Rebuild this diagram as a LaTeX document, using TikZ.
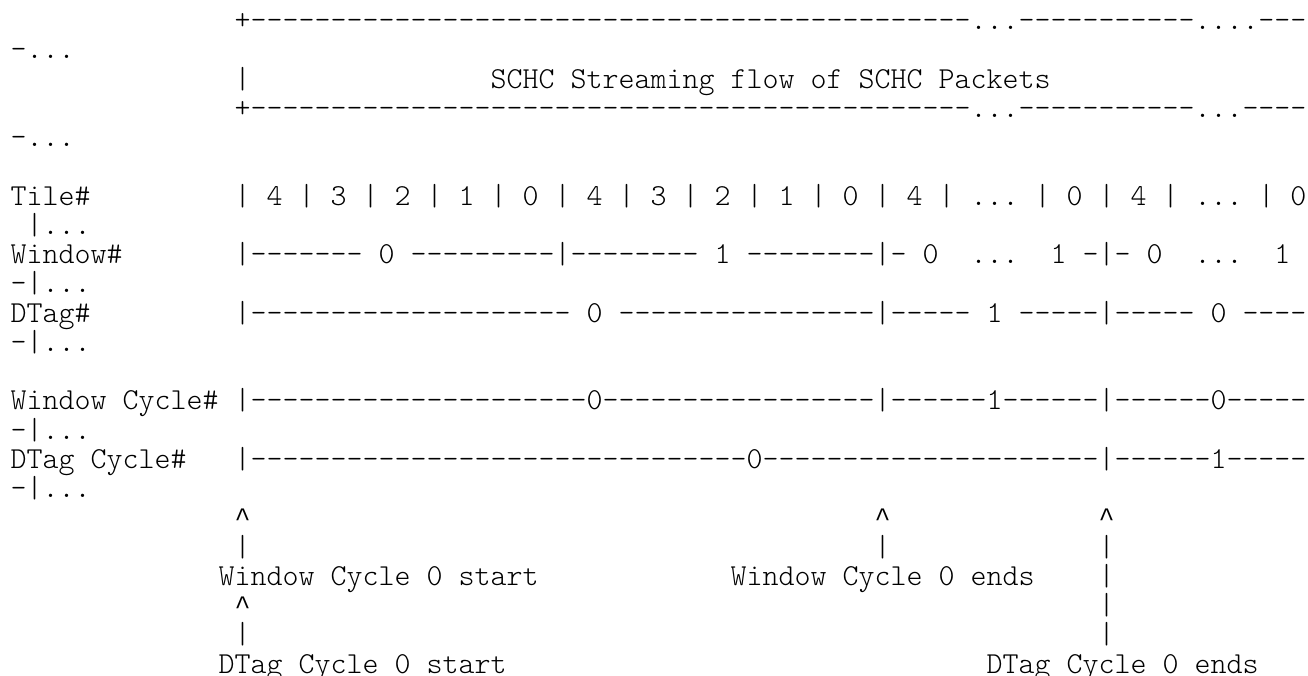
\documentclass[tikz,border=0pt]{standalone}
\usepackage{fontspec}
\setmonofont{lmmonolt10-regular.otf}
\newfontfamily\caretfont{Liberation Mono}
\newcommand\rptc[2]{\ifnum#1>0 #2\expandafter\rptc\expandafter{\the\numexpr#1-1\relax}{#2}\fi}
\newcommand\crt{{\caretfont\fontsize{26.66pt}{29.25pt}\selectfont\textasciicircum}}
\tikzset{txt/.style={anchor=base west, inner sep=0pt, outer sep=0pt, text=black,
  font=\ttfamily\fontsize{30.47pt}{29.25pt}\selectfont}}
\newcommand\putl[3]{\node[txt] (n#1c#2) at ({10.7+16*#2},{-29.5-29.25*#1}) {#3};}
\begin{document}
\begin{tikzpicture}[x=1pt,y=1pt]
\fill[white] (0,0) rectangle (1308,-675);
\useasboundingbox (0,0) rectangle (1308,-675);
\putl{0}{14}{+\rptc{45}{-}...\rptc{11}{-}....---}
\putl{1}{0}{-...}
\putl{2}{14}{|\rptc{15}{~}SCHC~Streaming~flow~of~SCHC~Packets}
\putl{3}{14}{+\rptc{45}{-}...\rptc{11}{-}...----}
\putl{4}{0}{-...}
\putl{6}{0}{Tile\#}
\putl{6}{14}{|~4~|~3~|~2~|~1~|~0~|~4~|~3~|~2~|~1~|~0~|~4~|~...~|~0~|~4~|~...~|~0}
\putl{7}{1}{|...}
\putl{8}{0}{Window\#}
\putl{8}{14}{|\rptc{7}{-}~0~\rptc{9}{-}|\rptc{8}{-}~1~\rptc{8}{-}|-~0~~...~~1~-|-~0~~...~~1}
\putl{9}{0}{-|...}
\putl{10}{0}{DTag\#}
\putl{10}{14}{|\rptc{20}{-}~0~\rptc{16}{-}|-----~1~-----|-----~0~----}
\putl{11}{0}{-|...}
\putl{13}{0}{Window~Cycle\#}
\putl{13}{14}{|\rptc{21}{-}0\rptc{17}{-}|------1------|------0-----}
\putl{14}{0}{-|...}
\putl{15}{0}{DTag~Cycle\#}
\putl{15}{14}{|\rptc{31}{-}0\rptc{21}{-}|------1-----}
\putl{16}{0}{-|...}
\putl{17}{14}{\crt}
\putl{17}{54}{\crt}
\putl{17}{68}{\crt}
\putl{18}{14}{|}
\putl{18}{54}{|}
\putl{18}{68}{|}
\putl{19}{13}{Window~Cycle~0~start}
\putl{19}{45}{Window~Cycle~0~ends}
\putl{19}{68}{|}
\putl{20}{14}{\crt}
\putl{20}{68}{|}
\putl{21}{14}{|}
\putl{21}{68}{|}
\putl{22}{13}{DTag~Cycle~0~start}
\putl{22}{61}{DTag~Cycle~0~ends}
\end{tikzpicture}
\end{document}
